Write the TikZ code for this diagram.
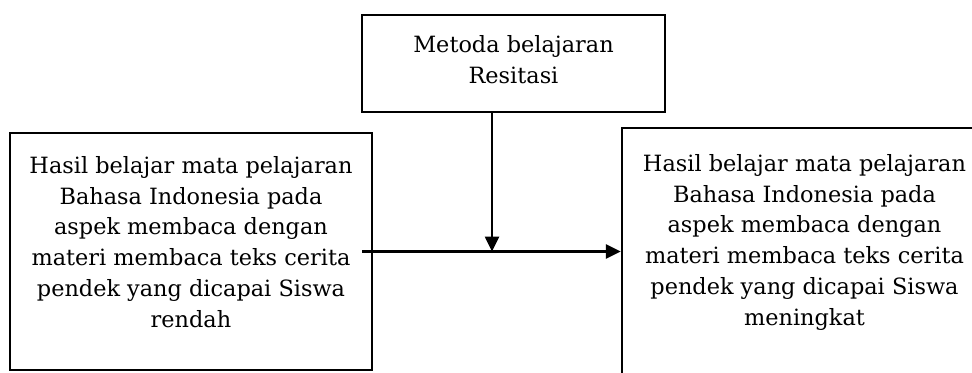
\documentclass[tikz,border=0pt]{standalone}
\usepackage{fontspec}
\setmainfont{DejaVu Serif}
\usetikzlibrary{arrows.meta,positioning,calc}

\begin{document}
\begin{tikzpicture}[
    x=0.5pt,y=0.5pt,
    box/.style={draw,line width=1.2pt,inner sep=0pt},
    txt/.style={align=center,inner sep=0pt,font=\fontsize{11.2}{15.4}\selectfont},
    arrow/.style={-{Triangle[length=7.5pt,width=7pt]},line width=1.3pt}
  ]
    \useasboundingbox (0,0) rectangle (972,372);
    \node[box,minimum width=151.5pt,minimum height=48.5pt] (metode) at (513.5,308.5) {};
    \node[box,minimum width=181pt,minimum height=118.5pt] (awal) at (191,120.5) {};
    \node[box,minimum width=182.5pt,minimum height=126pt] (akhir) at (804.5,118) {};

    \node[txt,below=10.5pt of metode.north] (metodetxt) {Metoda belajaran\\Resitasi};
    \node[txt,below=12pt of awal.north] (awaltxt) {Hasil belajar mata pelajaran\\Bahasa Indonesia pada\\aspek membaca dengan\\materi membaca teks cerita\\pendek yang dicapai Siswa\\rendah};
    \node[txt,below=13.5pt of akhir.north] (akhirtxt) {Hasil belajar mata pelajaran\\Bahasa Indonesia pada\\aspek membaca dengan\\materi membaca teks cerita\\pendek yang dicapai Siswa\\meningkat};

    \coordinate (mulai) at ($(awal.east)+(-5.5pt,0)$);
    \coordinate (turun) at ($(metode.south)+(-10.75pt,0)$);
    \draw[arrow] (mulai) -- (mulai -| akhir.west);
    \draw[arrow] (turun) -- (turun |- mulai);
  \end{tikzpicture}
\end{document}
